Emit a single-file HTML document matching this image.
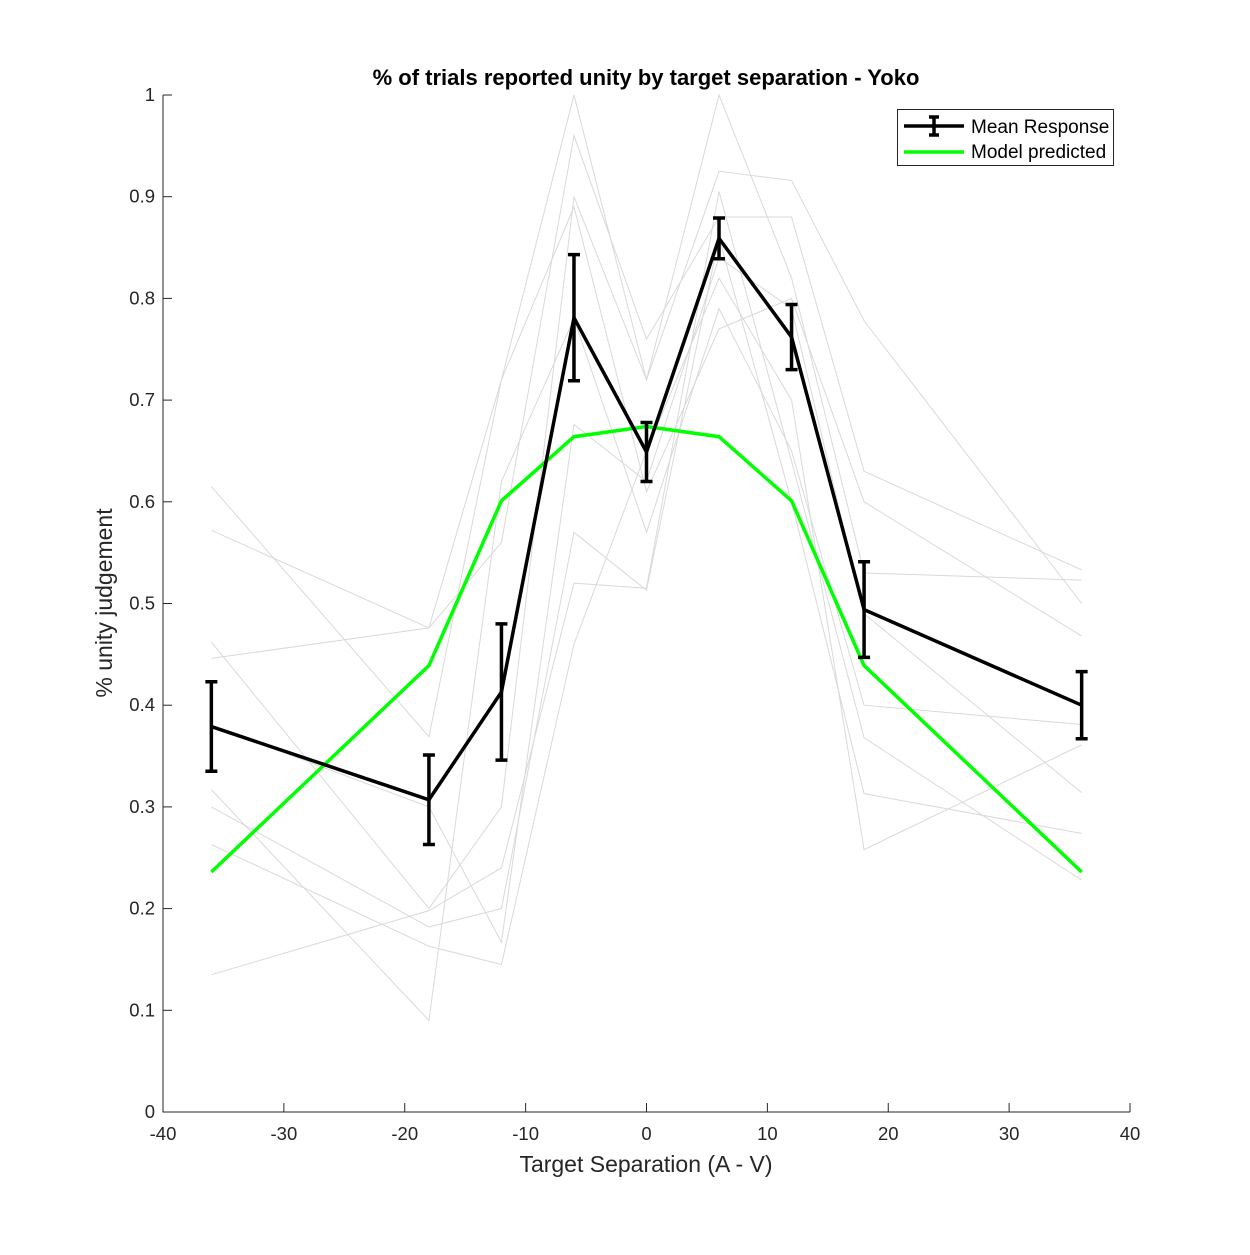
<!DOCTYPE html>
<html><head><meta charset="utf-8"><style>
body{margin:0;background:#fff}
svg{font-family:"Liberation Sans",Arial,sans-serif}
</style></head><body>
<svg id="chart" width="1250" height="1250" xmlns="http://www.w3.org/2000/svg">
<rect width="1250" height="1250" fill="#fff"/>
</svg>
<script>
const xCats=[-36,-18,-12,-6,0,6,12,18,36];
const meanVals=[0.379,0.307,0.413,0.781,0.649,0.859,0.762,0.494,0.400];
const errVals=[0.044,0.044,0.067,0.062,0.029,0.020,0.032,0.047,0.033];
const modelVals=[0.236,0.439,0.601,0.664,0.674,0.664,0.601,0.439,0.236];
const trial1=[0.615,0.369,0.720,1.000,0.720,0.925,0.916,0.778,0.500];
const trial2=[0.572,0.476,0.560,0.960,0.760,0.880,0.880,0.630,0.533];
const trial3=[0.462,0.200,0.300,0.900,0.720,1.000,0.820,0.530,0.523];
const trial4=[0.446,0.476,0.720,0.890,0.610,0.770,0.800,0.600,0.468];
const trial5=[0.317,0.090,0.620,0.780,0.570,0.790,0.650,0.400,0.381];
const trial6=[0.300,0.182,0.200,0.570,0.513,0.860,0.600,0.313,0.274];
const trial7=[0.263,0.163,0.145,0.460,0.650,0.820,0.700,0.258,0.361];
const trial8=[0.135,0.198,0.240,0.520,0.515,0.905,0.640,0.368,0.228];
const trial9=[0.380,0.300,0.167,0.676,0.620,0.840,0.790,0.490,0.314];
const trials=[trial1,trial2,trial3,trial4,trial5,trial6,trial7,trial8,trial9];
const xTicks=[-40,-30,-20,-10,0,10,20,30,40];
const yTicks=[0,0.1,0.2,0.3,0.4,0.5,0.6,0.7,0.8,0.9,1];

const svg=document.getElementById('chart');
const NS='http://www.w3.org/2000/svg';
const X0=163,X1=1130,Y0=1112,Y1=95;
function sx(v){return X0+(v+40)/80*(X1-X0);}
function sy(v){return Y0-v*(Y0-Y1);}
function mk(tag,attrs,parent){const e=document.createElementNS(NS,tag);for(const k in attrs)e.setAttribute(k,attrs[k]);(parent||svg).appendChild(e);return e;}
function pts(vals){return xCats.map((x,i)=>sx(x)+','+sy(vals[i])).join(' ');}

trials.forEach((t,i)=>{
  const p=mk('polyline',{points:pts(t),fill:'none',stroke:'#d9d9d9','stroke-width':1});
  
  
});

const ax=mk('path',{d:`M${X0},${Y1} L${X0},${Y0} L${X1},${Y0}`,fill:'none',stroke:'#262626','stroke-width':1});


xTicks.forEach(t=>{
  const x=sx(t);
  mk('line',{x1:x,y1:Y0,x2:x,y2:Y0-9,stroke:'#262626'});
  const tx=mk('text',{x:x,y:Y0+28,'text-anchor':'middle','font-size':18.5,fill:'#262626'});
  tx.textContent=String(t);
  
  
});
yTicks.forEach(t=>{
  const y=sy(t);
  mk('line',{x1:X0,y1:y,x2:X0+9,y2:y,stroke:'#262626'});
  const tx=mk('text',{x:X0-8,y:y+6,'text-anchor':'end','font-size':18.5,fill:'#262626'});
  tx.textContent=String(t);
  
  
});

const ml=mk('polyline',{points:pts(modelVals),fill:'none',stroke:'#00ff00','stroke-width':3.5});



const mn=mk('polyline',{points:pts(meanVals),fill:'none',stroke:'#000','stroke-width':3.5});


xCats.forEach((x,i)=>{
  const cx=sx(x),yt=sy(meanVals[i]+errVals[i]),yb=sy(meanVals[i]-errVals[i]);
  const g=mk('path',{d:`M${cx},${yt} L${cx},${yb} M${cx-6},${yt} L${cx+6},${yt} M${cx-6},${yb} L${cx+6},${yb}`,stroke:'#000','stroke-width':3.5,fill:'none'});
  
  
});

const title=mk('text',{x:646,y:85,'text-anchor':'middle','font-size':22,'font-weight':'bold',fill:'#000'});
title.textContent='% of trials reported unity by target separation - Yoko';


const xl=mk('text',{x:646,y:1172,'text-anchor':'middle','font-size':23,fill:'#262626'});
xl.textContent='Target Separation (A - V)';


const yl=mk('text',{x:0,y:0,'text-anchor':'middle','font-size':23,fill:'#262626',transform:'translate(112,603) rotate(-90)'});
yl.textContent='% unity judgement';



const lg=mk('g',{});


mk('rect',{x:897.5,y:109.5,width:216,height:56,fill:'#fff',stroke:'#262626','stroke-width':1},lg);
mk('line',{x1:904,y1:126,x2:964,y2:126,stroke:'#000','stroke-width':3.5},lg);
mk('path',{d:'M934,117 L934,135 M929,117 L939,117 M929,135 L939,135',stroke:'#000','stroke-width':3.5,fill:'none'},lg);
mk('line',{x1:904,y1:152,x2:964,y2:152,stroke:'#00ff00','stroke-width':3.5},lg);
const l1=mk('text',{x:971,y:133,'font-size':19,fill:'#000'},lg);
l1.textContent='Mean Response';


const l2=mk('text',{x:971,y:158,'font-size':19,fill:'#000'},lg);
l2.textContent='Model predicted';


</script>
</body></html>
